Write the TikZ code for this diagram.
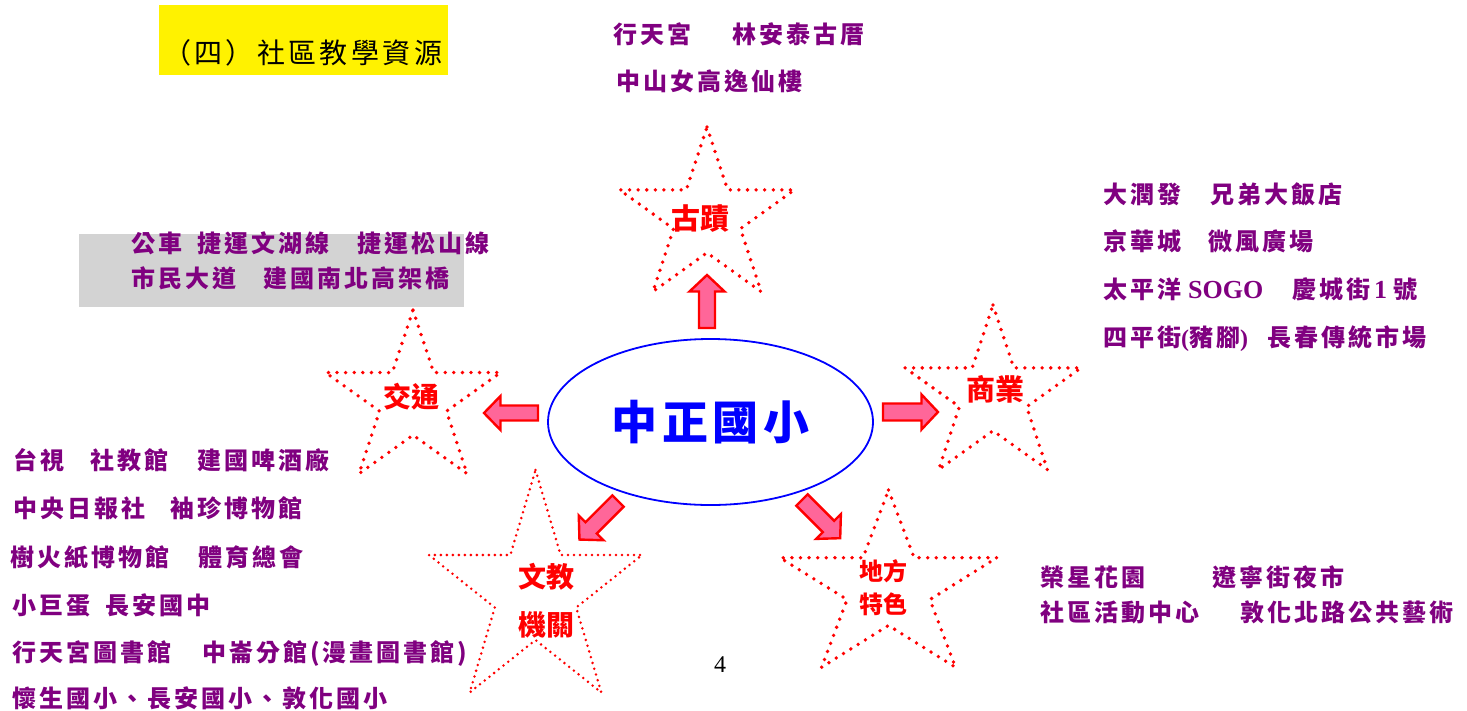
\documentclass[tikz,border=0pt]{standalone}
\usepackage{fontspec}
\setmainfont{Liberation Serif}
\newfontfamily\cjk[LetterSpace=12.5]{Noto Sans CJK TC}
\newfontfamily\cjkplain{Noto Sans CJK TC}
\newfontfamily\cjklabel[LetterSpace=6]{Noto Sans CJK TC}
\newfontfamily\cjktitle[LetterSpace=12]{Noto Sans CJK TC}
\newfontfamily\cjkwide[LetterSpace=10]{Noto Sans CJK TC}
\newfontfamily\lat{Liberation Serif}
\usetikzlibrary{shapes.geometric}
\definecolor{purp}{RGB}{128,0,128}
\definecolor{pinkfill}{RGB}{255,102,153}
\definecolor{graybox}{RGB}{211,211,211}
\newcommand\fsz[1]{\fontsize{#1}{#1}\selectfont}
\tikzset{
  item/.style={anchor=base west, inner sep=0pt, text=purp, font=\cjk\bfseries\fsz{24}},
  latitem/.style={anchor=base west, inner sep=0pt, text=purp, font=\lat\bfseries\fsz{26}},
  starlabel/.style={inner sep=0pt, text=red, font=\cjkplain\bfseries\fsz{#1}},
  bigdots/.style={red, line width=3.8pt, line cap=round, dash pattern=on 0pt off 8.6pt},
  smalldots/.style={red, line width=2.8pt, line cap=round, dash pattern=on 0pt off 6pt},
  blockarrow/.style={draw=red, fill=pinkfill, line width=2.4pt, line join=miter},
}
% x y angle length shaft-half head-half
\newcommand\barrow[6]{%
  \begin{scope}[shift={(#1,#2)}, rotate=#3]
    \draw[blockarrow] (0,-#5) -- ({#4-16.5},-#5) -- ({#4-16.5},-#6) -- (#4,0)
      -- ({#4-16.5},#6) -- ({#4-16.5},#5) -- (0,#5) -- cycle;
  \end{scope}}
% cx cy Rx Ry style
\newcommand\dotstar[5]{%
  \draw[#5] plot[samples at={0,1,...,9}, variable=\k]
    ({#1+ifthenelse(mod(\k,2)==0,1,0.382)*#3*cos(-90+36*\k)},
     {#2+ifthenelse(mod(\k,2)==0,1,0.382)*#4*sin(-90+36*\k)}) -- cycle;}
\begin{document}
\begin{tikzpicture}[x=1pt, y=-1pt]
\useasboundingbox[fill=white] (0,0) rectangle (1467,710);

% title
\node[fill=yellow, anchor=north west, minimum width=289pt, minimum height=70pt, inner sep=0pt] (titlebox) at (159,5) {};
\node[anchor=base west, inner sep=0pt, font=\cjktitle\fsz{28}] (title) at (163,63) {（四）社區教學資源};

% gray box
\node[fill=graybox, anchor=north west, minimum width=385pt, minimum height=73pt, inner sep=0pt] (gbox) at (79,234) {};

% stars
\dotstar{707}{218}{92}{91}{bigdots}
\dotstar{413}{400.5}{92}{90.5}{bigdots}
\dotstar{993}{396}{92.5}{91}{bigdots}
\dotstar{535.5}{593}{112}{123}{smalldots}
\dotstar{888.5}{588}{114}{98}{bigdots}

% star labels
\node[starlabel=29] (l1) at (700,219) {古蹟};
\node[starlabel=28] (l2) at (411.5,397) {交通};
\node[starlabel=29] (l3) at (995,389) {商業};
\node[inner sep=0pt, text=red, font=\cjkplain\bfseries\fontsize{28}{48}\selectfont, align=center] (l4) at (546,601) {文教\\機關};
\node[inner sep=0pt, text=red, font=\cjkplain\bfseries\fontsize{24}{33}\selectfont, align=center] (l5) at (883,588) {地方\\特色};

% center
\node[ellipse, draw=blue, line width=1.8pt, minimum width=325pt, minimum height=166pt, inner sep=0pt, text=blue, font=\cjkwide\bfseries\fsz{46}] (school) at (710.5,422) {中正國小};

% block arrows
\barrow{707}{328}{90}{53}{8}{17.5}
\barrow{538}{413}{180}{54}{7.5}{17}
\barrow{883}{412}{0}{55}{8.5}{17.5}
\barrow{618}{501}{225}{54.5}{8}{17.5}
\barrow{802}{500}{-45}{54}{8}{17.5}

% top texts
\node[item] (t1) at (613,43) {行天宮};
\node[item] (t2) at (732,43) {林安泰古厝};
\node[item] (t3) at (616,90) {中山女高逸仙樓};

% right texts
\node[item] (r1) at (1103,203) {大潤發};
\node[item] (r2) at (1210,203) {兄弟大飯店};
\node[item] (r3) at (1103,250) {京華城};
\node[item] (r4) at (1208,250) {微風廣場};
\node[item] (r5) at (1103,298) {太平洋};
\node[latitem] (r6) at (1188,298) {SOGO};
\node[item] (r7) at (1292,298) {慶城街};
\node[latitem] (r8) at (1374,298) {1};
\node[item] (r9) at (1393,298) {號};
\node[item] (r10) at (1103,346) {四平街{\lat(}豬腳{\lat)}};
\node[item] (r11) at (1267,346) {長春傳統市場};

% gray box texts
\node[item] (g1) at (131,252) {公車};
\node[item] (g2) at (197,252) {捷運文湖線};
\node[item] (g3) at (357,252) {捷運松山線};
\node[item] (g4) at (131,287) {市民大道};
\node[item] (g5) at (263,287) {建國南北高架橋};

% left bottom texts
\node[item] (b1) at (13,469) {台視};
\node[item] (b2) at (90,469) {社教館};
\node[item] (b3) at (197,469) {建國啤酒廠};
\node[item] (b4) at (13,517) {中央日報社};
\node[item] (b5) at (170,517) {袖珍博物館};
\node[item] (b6) at (10,566) {樹火紙博物館};
\node[item] (b7) at (198,566) {體育總會};
\node[item] (b8) at (12,614) {小巨蛋};
\node[item] (b9) at (105,614) {長安國中};
\node[item] (b10) at (12,661) {行天宮圖書館};
\node[item] (b11) at (202,661) {中崙分館(漫畫圖書館)};
\node[item] (b12) at (12,707) {懷生國小、長安國小、敦化國小};

% right bottom texts
\node[item] (c1) at (1040,586) {榮星花園};
\node[item] (c2) at (1212,586) {遼寧街夜市};
\node[item] (c3) at (1040,621) {社區活動中心};
\node[item] (c4) at (1240,621) {敦化北路公共藝術};

% page number
\node[inner sep=0pt, font=\lat\fsz{24}] (page) at (720,665) {4};
\end{tikzpicture}
\end{document}
